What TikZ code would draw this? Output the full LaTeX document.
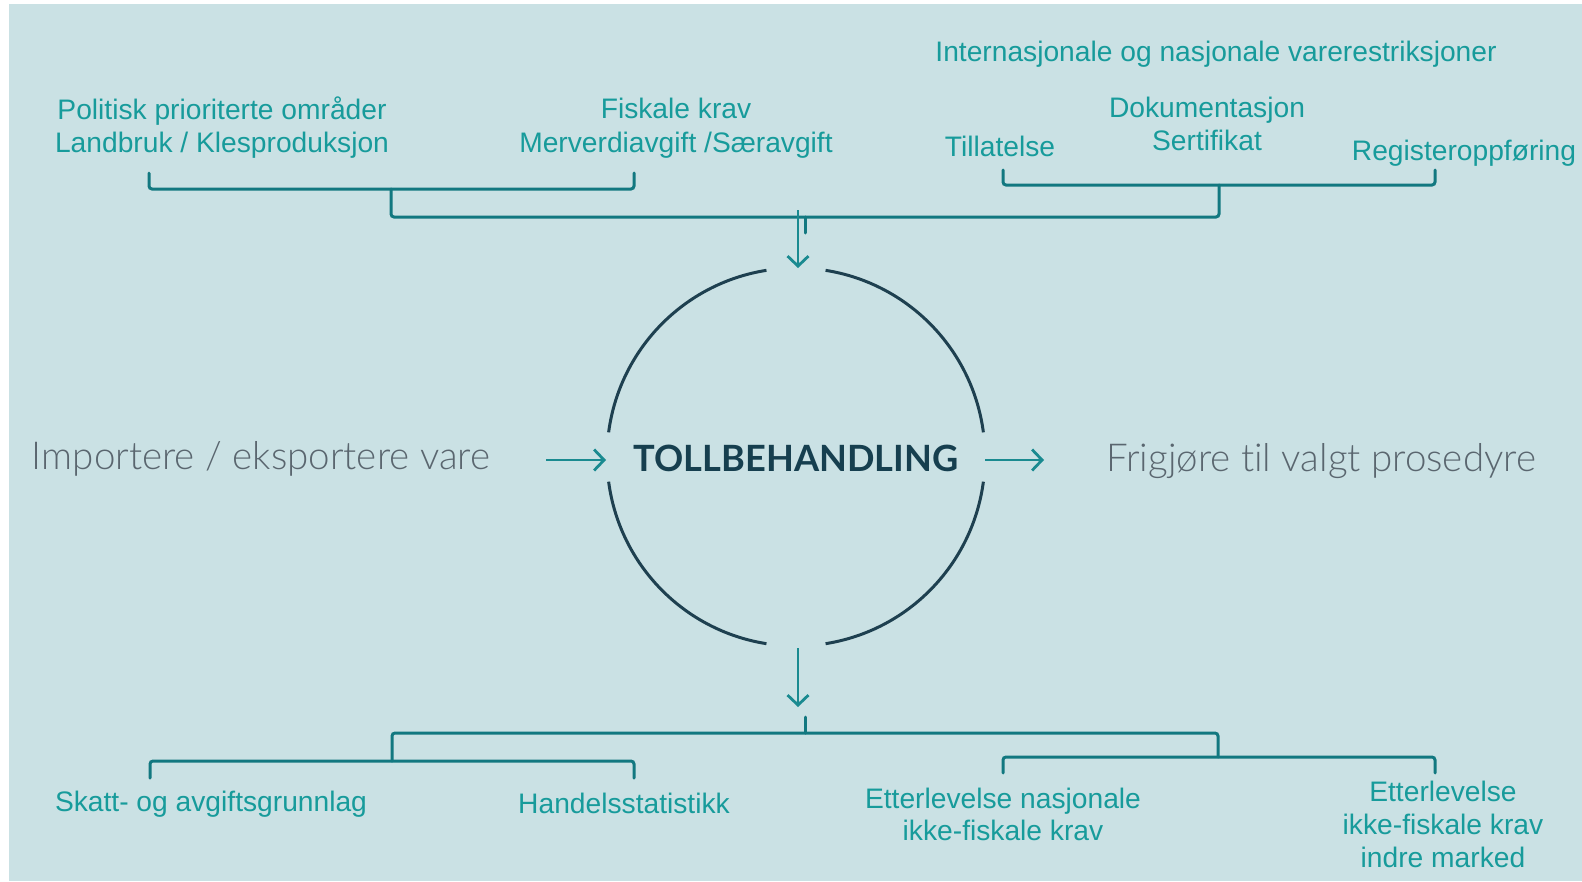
\documentclass[tikz,border=0pt]{standalone}
\usepackage{fontspec}
\setmainfont{Liberation Sans}
\newfontfamily\lightfont{Lato Light}[Ligatures={NoCommon}]
\newfontfamily\titlefont{Lato}
\usetikzlibrary{arrows.meta}
\definecolor{bg}{HTML}{CAE1E4}
\definecolor{tealtxt}{HTML}{179B9B}
\definecolor{brk}{HTML}{127880}
\definecolor{arrc}{HTML}{1A8A90}
\definecolor{circc}{HTML}{1E4050}
\definecolor{titlec}{HTML}{163F4F}
\definecolor{grayt}{HTML}{5A666F}
\begin{document}
\begin{tikzpicture}[x=1pt,y=-1pt,
  lbl/.style={text=tealtxt, font=\fontsize{28.2}{33}\selectfont, inner sep=0pt, anchor=base},
  side/.style={text=grayt, font=\lightfont\fontsize{38.5}{42}\selectfont, inner sep=0pt, anchor=base},
  title/.style={text=titlec, font=\titlefont\bfseries\fontsize{36.2}{42}\selectfont, inner sep=0pt, anchor=base},
  brkline/.style={draw=brk, line width=3pt, rounded corners=3pt, line cap=round},
  arr/.style={draw=arrc, line width=2.8pt, -{Straight Barb[length=10pt,width=21pt,line width=2.8pt]}},
  circline/.style={draw=circc, line width=3pt}]
\useasboundingbox (0,0) rectangle (1582,881);
\fill[bg] (9,4) rectangle (1582,881);

% top labels
\node[lbl] (pol1) at (222,119) {Politisk prioriterte områder};
\node[lbl] (pol2) at (222,152) {Landbruk / Klesproduksjon};
\node[lbl] (fis1) at (676,118) {Fiskale krav};
\node[lbl] (fis2) at (676,152) {Merverdiavgift /Særavgift};
\node[lbl] (int) at (1216,61) {Internasjonale og nasjonale varerestriksjoner};
\node[lbl] (dok) at (1207,117) {Dokumentasjon};
\node[lbl] (ser) at (1207,150) {Sertifikat};
\node[lbl] (til) at (1000,156) {Tillatelse};
\node[lbl] (reg) at (1464,160) {Registeroppføring};

% bottom labels
\node[lbl] (ska) at (211,811) {Skatt- og avgiftsgrunnlag};
\node[lbl] (han) at (624,813) {Handelsstatistikk};
\node[lbl] (etn1) at (1003,808) {Etterlevelse nasjonale};
\node[lbl] (etn2) at (1003,840) {ikke-fiskale krav};
\node[lbl] (eti1) at (1443,801) {Etterlevelse};
\node[lbl] (eti2) at (1443,834) {ikke-fiskale krav};
\node[lbl] (eti3) at (1443,867) {indre marked};

% centre
\node[side] (imp) at (261,469) {Importere / eksportere vare};
\node[side] (fri) at (1321,471) {Frigjøre til valgt prosedyre};
\node[title] (tb) at (796,471) {TOLLBEHANDLING};

% circle
\coordinate (c) at (796,457);
\draw[circline] (c) ++(7.5:189) arc[start angle=7.5, end angle=81, radius=189];
\draw[circline] (c) ++(99:189) arc[start angle=99, end angle=172.5, radius=189];
\draw[circline] (c) ++(187.5:189) arc[start angle=187.5, end angle=261, radius=189];
\draw[circline] (c) ++(279:189) arc[start angle=279, end angle=352.5, radius=189];

% horizontal arrows
\coordinate (la1) at (546,460); \coordinate (la2) at (606,460);
\coordinate (ra1) at (985,460); \coordinate (ra2) at (1044,460);
\draw[arr] (la1) -- (la2);
\draw[arr] (ra1) -- (ra2);

% top brackets
\coordinate (tl1) at (149,173); \coordinate (tl2) at (634,173);
\coordinate (tlm) at (391,189);
\coordinate (tr1) at (1003,170); \coordinate (tr2) at (1435,170);
\coordinate (trm) at (1219,185);
\coordinate (tm) at (805,217); \coordinate (ttip) at (805,233);
\draw[brkline] (tl1) |- (tlm) -| (tl2);
\draw[brkline] (tr1) |- (trm) -| (tr2);
\draw[brkline] (tlm) |- (tm) -| (trm);
\draw[brkline, rounded corners=0pt] (tm) -- (ttip);
\coordinate (ta1) at (798,210); \coordinate (ta2) at (798,268);
\draw[arr] (ta1) -- (ta2);

% bottom brackets
\coordinate (bl1) at (150,778); \coordinate (bl2) at (634,778);
\coordinate (blm) at (392,761);
\coordinate (br1) at (1003,773); \coordinate (br2) at (1435,773);
\coordinate (brm) at (1218,757);
\coordinate (bm) at (805,733); \coordinate (btip) at (805,717);
\draw[brkline] (bl1) |- (blm) -| (bl2);
\draw[brkline] (br1) |- (brm) -| (br2);
\draw[brkline] (blm) |- (bm) -| (brm);
\draw[brkline, rounded corners=0pt] (bm) -- (btip);
\coordinate (ba1) at (798,648); \coordinate (ba2) at (798,707);
\draw[arr] (ba1) -- (ba2);
\end{tikzpicture}
\end{document}
